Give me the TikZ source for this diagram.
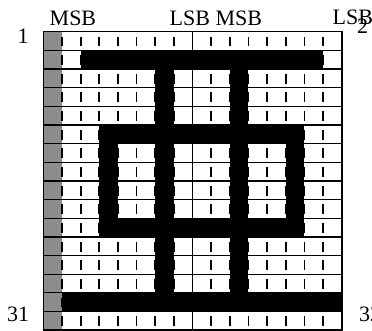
\documentclass[tikz,border=0pt]{standalone}
\usepackage{fontspec}
\setmainfont{Liberation Serif}
\begin{document}
\begin{tikzpicture}[x=1pt,y=-1pt]
\tikzset{
  bitlabel/.style={inner sep=0pt,anchor=base west,font=\fontsize{22}{24}\selectfont},
  pixel/.style={fill=black},
  padcell/.style={fill=black!45},
  rowline/.style={line width=1.3pt},
  colline/.style={line width=1.8pt,dash pattern=on 9.8pt off 8.85pt,dash phase=13.8pt},
  borderline/.style={line width=1.6pt}
}
\useasboundingbox (0,0) rectangle (372,331);
\node[bitlabel] (msb_l) at (49.5,26) {MSB};
\node[bitlabel] (lsb_msb) at (169.5,26) {LSB MSB};
\node[bitlabel] (lsb_r) at (332.5,25) {LSB};
\node[bitlabel] (byte_1) at (17.5,44) {1};
\node[bitlabel] (byte_2) at (357,33.5) {2};
\node[bitlabel] (byte_31) at (7,321) {31};
\node[bitlabel] (byte_32) at (359,321) {32};
\begin{scope}[shift={(43.3,31.7)},x=18.65pt,y=-18.65pt]
\fill[white] (0,0) rectangle (16,16);
\fill[padcell] (0,0) rectangle (1,16);
\fill[pixel] (2,1) rectangle (15,2);
\foreach \c in {6,10} \fill[pixel] (\c,2) rectangle +(1,3);
\fill[pixel] (3,5) rectangle (14,6);
\foreach \c in {3,6,10,13} \fill[pixel] (\c,6) rectangle +(1,4);
\fill[pixel] (3,10) rectangle (14,11);
\foreach \c in {6,10} \fill[pixel] (\c,11) rectangle +(1,3);
\fill[pixel] (1,14) rectangle (16,15);
\foreach \r in {1,...,15} \draw[rowline] (0,\r) -- (16,\r);
\foreach \c in {1,...,7,9,10,...,15} \draw[colline] (\c,0) -- (\c,16);
\draw[borderline] (8,0) -- (8,16);
\draw[borderline] (0,0) rectangle (16,16);
\end{scope}
\end{tikzpicture}
\end{document}
